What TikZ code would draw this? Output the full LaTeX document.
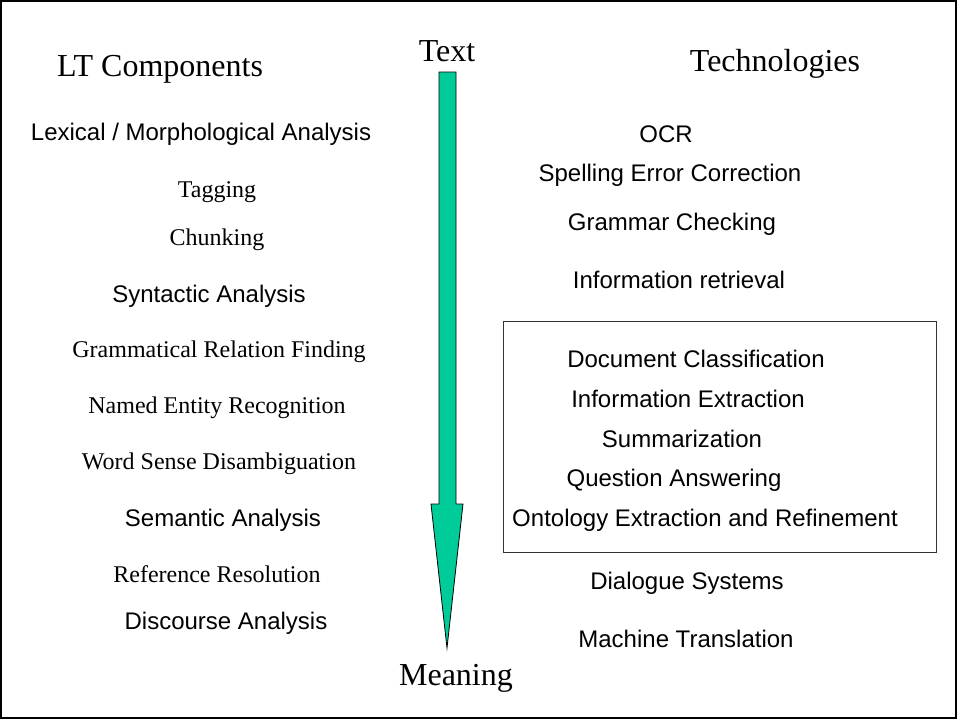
\documentclass[tikz,border=0pt]{standalone}
\usepackage{fontspec}
\setmainfont{Liberation Serif}
\setsansfont{Liberation Sans}
\definecolor{arrowgreen}{RGB}{0,204,153}
\begin{document}
\begin{tikzpicture}[x=1pt,y=-1pt,
  sanslbl/.style={inner sep=0pt,yshift=-2pt,font=\sffamily\fontsize{24}{28}\selectfont},
  seriflbl/.style={inner sep=0pt,yshift=-2pt,font=\rmfamily\fontsize{24}{28}\selectfont},
  headlbl/.style={inner sep=0pt,yshift=-2pt,font=\rmfamily\fontsize{32}{36}\selectfont},
  frame/.style={draw=black,line width=2pt},
  groupbox/.style={draw=black!80,line width=0.8pt},
  bigarrow/.style={draw=black,line width=0.8pt,fill=arrowgreen,line join=miter}]
\useasboundingbox (0,0) rectangle (957,720);
\draw[frame] (1,1) rectangle (956,718);

% central arrow
\draw[bigarrow] (439,72) -- (456,72) -- (456,504) -- (463,504) -- (447,648)
  -- (431,504) -- (439,504) -- cycle;
\node[headlbl] (text) at (447,49) {Text};
\node[headlbl] (meaning) at (456,676) {Meaning};

% headers
\node[headlbl] (ltc) at (160,67) {LT Components};
\node[headlbl] (tech) at (775,62) {Technologies};

% left column
\node[sanslbl]  (lex)  at (201,132) {Lexical / Morphological Analysis};
\node[seriflbl] (tag)  at (217,190) {Tagging};
\node[seriflbl] (chk)  at (217,238) {Chunking};
\node[sanslbl]  (syn)  at (209,294) {Syntactic Analysis};
\node[seriflbl] (grf)  at (219,350) {Grammatical Relation Finding};
\node[seriflbl] (ner)  at (217,406) {Named Entity Recognition};
\node[seriflbl] (wsd)  at (219,462) {Word Sense Disambiguation};
\node[sanslbl]  (sem)  at (223,518) {Semantic Analysis};
\node[seriflbl] (ref)  at (217,572) {Reference Resolution};
\node[sanslbl]  (dis)  at (226,621) {Discourse Analysis};

% right column
\node[sanslbl] (ocr)  at (666,132) {OCR};
\node[sanslbl] (spl)  at (670,173) {Spelling Error Correction};
\node[sanslbl] (gch)  at (672,222) {Grammar Checking};
\node[sanslbl] (ir)   at (679,278) {Information retrieval};
\draw[groupbox] (503,321) rectangle (936,552);
\node[sanslbl] (dc)   at (696,357) {Document Classification};
\node[sanslbl] (ie)   at (688,397) {Information Extraction};
\node[sanslbl] (sum)  at (682,437) {Summarization};
\node[sanslbl] (qa)   at (674,478) {Question Answering};
\node[sanslbl] (ont)  at (705,518) {Ontology Extraction and Refinement};
\node[sanslbl] (dia)  at (687,581) {Dialogue Systems};
\node[sanslbl] (mt)   at (686,637) {Machine Translation};
\end{tikzpicture}
\end{document}
